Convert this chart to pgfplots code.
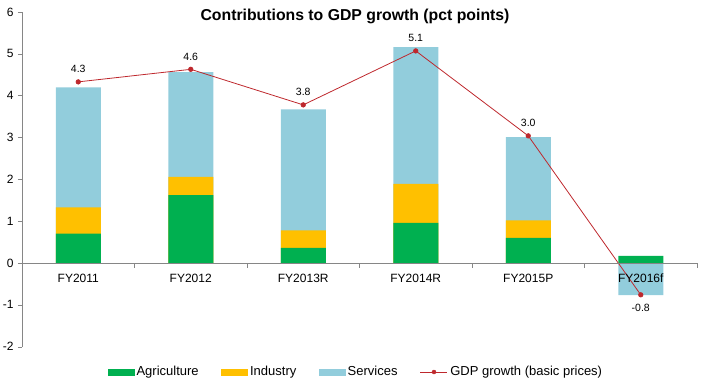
\documentclass[border=0pt]{standalone}
\usepackage{pgfplots}
\pgfplotsset{compat=1.18}
\usepackage{fontspec}
\setmainfont{Liberation Sans}
\definecolor{agri}{RGB}{0,176,80}
\definecolor{ind}{RGB}{255,192,0}
\definecolor{serv}{RGB}{146,205,220}
\definecolor{gdp}{RGB}{190,40,45}
\definecolor{axgray}{RGB}{134,134,134}
\begin{document}
\begin{tikzpicture}
\useasboundingbox (-22bp,-36.3bp) rectangle (680bp,346.7bp);
\begin{axis}[
  at={(0,0)}, anchor=south west,
  scale only axis, width=675bp, height=334.7bp,
  xmin=-0.5, xmax=5.5, ymin=-2, ymax=6,
  axis y line=left, axis x line=middle,
  axis line style={axgray, -},
  axis on top,
  every tick/.style={axgray},
  /pgf/number format/assume math mode=true,
  ytick={-2,-1,0,1,2,3,4,5,6},
  yticklabel style={font=\fontsize{12bp}{14bp}\selectfont, xshift=-1bp},
  ytick align=outside, ytick pos=left,
  major tick length=4bp,
  xtick={0,1,2,3,4,5},
  xticklabels={FY2011,FY2012,FY2013R,FY2014R,FY2015P,FY2016f},
  x tick style={draw=none},
  xticklabel style={font=\fontsize{12bp}{14bp}\selectfont, yshift=-5.5bp},
  legend columns=4,
  legend style={at={(axis description cs:0.495,-0.0756)}, anchor=center, draw=none,
    font=\fontsize{13bp}{15bp}\selectfont, /tikz/every even column/.append style={column sep=20bp},
    inner xsep=0pt, nodes={inner xsep=2.5bp}},
  clip=false,
]
\addlegendimage{legend image code/.code={\fill[agri] (0bp,-2.9bp) rectangle (26bp,2.9bp);}}
\addlegendentry{Agriculture}
\addlegendimage{legend image code/.code={\fill[ind] (0bp,-2.9bp) rectangle (26bp,2.9bp);}}
\addlegendentry{Industry}
\addlegendimage{legend image code/.code={\fill[serv] (0bp,-2.9bp) rectangle (26bp,2.9bp);}}
\addlegendentry{Services}
\addlegendimage{legend image code/.code={\draw[gdp, line width=0.8bp] (0bp,0bp) -- (27bp,0bp); \fill[gdp] (13.5bp,0bp) circle (2bp);}}
\addlegendentry{GDP growth (basic prices)}
% Services (cumulative top of stack)
\addplot[ybar, bar width=45bp, bar shift=0pt, fill=serv, draw=none, forget plot]
  coordinates {(0,4.20) (1,4.56) (2,3.67) (3,5.16) (4,3.01) (5,-0.77)};
% Industry (cumulative top of stack)
\addplot[ybar, bar width=45bp, bar shift=0pt, fill=ind, draw=none, forget plot]
  coordinates {(0,1.33) (1,2.06) (2,0.78) (3,1.89) (4,1.02) (5,-0.02)};
% Agriculture
\addplot[ybar, bar width=45bp, bar shift=0pt, fill=agri, draw=none, forget plot]
  coordinates {(0,0.70) (1,1.62) (2,0.36) (3,0.96) (4,0.60) (5,0.17)};
% GDP growth
\addplot[gdp, line width=0.8bp, mark=*, mark size=2.2bp, mark options={fill=gdp, draw=gdp}, forget plot,
  nodes near coords, nodes near coords align=vertical,
  every node near coord/.append style={font=\fontsize{10.5bp}{12bp}\selectfont, black, inner ysep=8.5bp, inner xsep=0pt},
  point meta=explicit,
  /pgf/number format/.cd, fixed, fixed zerofill, precision=1, assume math mode=true]
  coordinates {(0,4.33) [4.3] (1,4.63) [4.6] (2,3.78) [3.8] (3,5.07) [5.1] (4,3.04) [3.0] (5,-0.76) [-0.8]};
% category boundary tick marks on the zero line
\draw[axgray] (axis cs:0.5,0) -- ([yshift=-5bp]axis cs:0.5,0);
\draw[axgray] (axis cs:1.5,0) -- ([yshift=-5bp]axis cs:1.5,0);
\draw[axgray] (axis cs:2.5,0) -- ([yshift=-5bp]axis cs:2.5,0);
\draw[axgray] (axis cs:3.5,0) -- ([yshift=-5bp]axis cs:3.5,0);
\draw[axgray] (axis cs:4.5,0) -- ([yshift=-5bp]axis cs:4.5,0);
\draw[axgray] (axis cs:5.5,0) -- ([yshift=-5bp]axis cs:5.5,0);
\end{axis}
\node[font=\bfseries\fontsize{15.8bp}{18bp}\selectfont] at (333bp,330.7bp) {Contributions to GDP growth (pct points)};
\end{tikzpicture}
\end{document}
